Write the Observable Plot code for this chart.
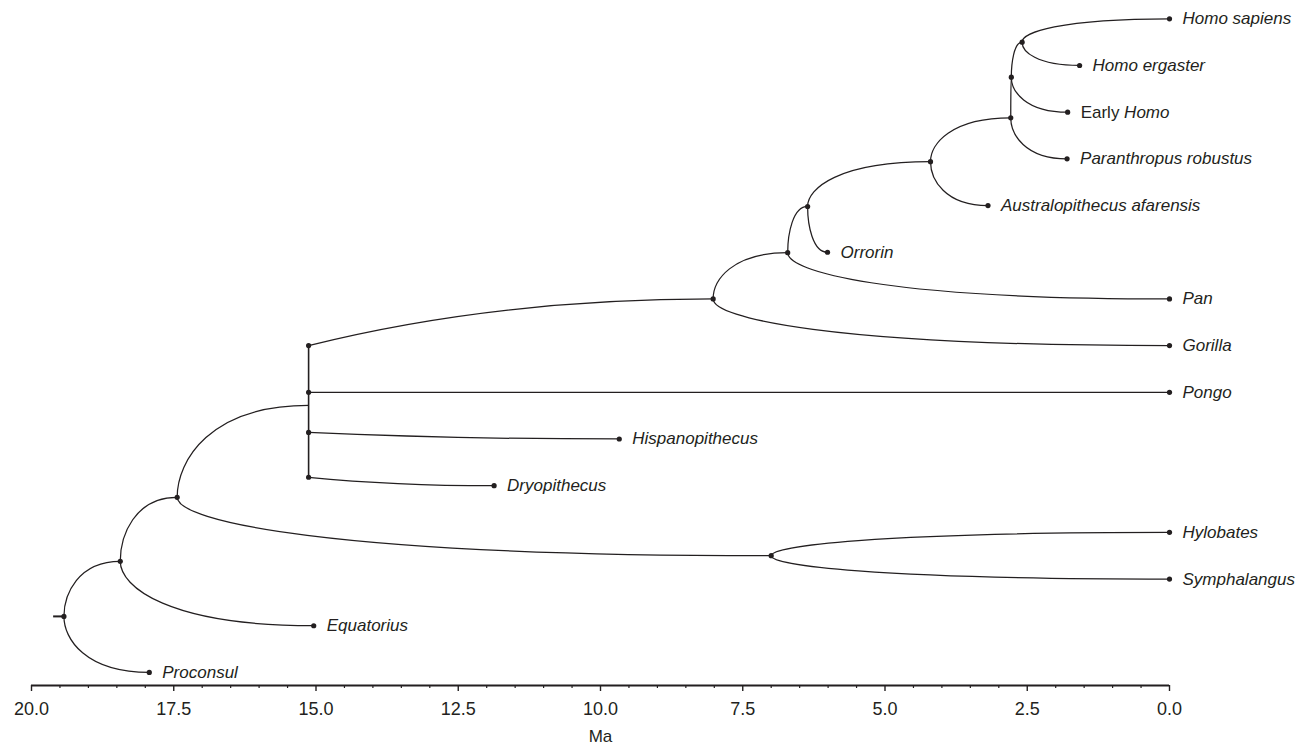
<!DOCTYPE html>
<html><head><meta charset="utf-8">
<script src="https://cdn.jsdelivr.net/npm/d3@7"></script>
<script src="https://cdn.jsdelivr.net/npm/@observablehq/plot@0.6"></script>
<style>body{margin:0;background:#fff} #chart{width:1313px;height:750px}</style>
</head><body><div id="chart"></div>
<script>
// ---- data ----
const taxa = ["Homo sapiens","Homo ergaster","Early Homo","Paranthropus robustus","Australopithecus afarensis","Orrorin","Pan","Gorilla","Pongo","Hispanopithecus","Dryopithecus","Hylobates","Symphalangus","Equatorius","Proconsul"];
const taxonAges = [0, 1.58, 1.79, 1.80, 3.19, 6.01, 0, 0, 0, 9.67, 11.87, 0, 0, 15.04, 17.93];
const nodeIds = ["A","B","C","D","E","F","G","H","I","J","K","L"];
const nodeAges = [2.59, 2.78, 2.79, 4.20, 6.36, 6.71, 8.02, 15.13, 17.44, 18.44, 19.43, 7.00];
const nodeRows = [0.50, 1.25, 2.12, 3.06, 4.02, 5.01, 6.00, 8.28, 10.25, 11.62, 12.80, 11.50];
const edgeParents  = ["A","A","B","B","C","C","D","D","E","E","F","F","G","G","H","H","H","H","I","I","L","L","J","J","K","K"];
const edgeChildren = ["Homo sapiens","Homo ergaster","A","Early Homo","B","Paranthropus robustus","C","Australopithecus afarensis","D","Orrorin","E","Pan","F","Gorilla","G","Pongo","Hispanopithecus","Dryopithecus","H","L","Hylobates","Symphalangus","I","Equatorius","J","Proconsul"];
const polytomyNode = "H";
const polytomyChildren = ["G","Pongo","Hispanopithecus","Dryopithecus"];
const polytomyRows = [7.00, 8.00, 8.86, 9.82];
const rootNode = "K";
const rootStemAge = 19.62;
const majorTicks = [20, 17.5, 15, 12.5, 10, 7.5, 5, 2.5, 0];
const minorTicks = d3.range(0, 20.001, 0.5).filter(v => !majorTicks.includes(v));
const axisTitle = "Ma";
const rowMax = 14.28;

// ---- derived tables ----
const pos = new Map();
taxa.forEach((t, i) => pos.set(t, {age: taxonAges[i], row: i}));
nodeIds.forEach((n, i) => pos.set(n, {age: nodeAges[i], row: nodeRows[i]}));
const edges = edgeParents.map((p, i) => {
  const c = edgeChildren[i];
  const poly = p === polytomyNode;
  return {
    x1: pos.get(p).age,
    y1: poly ? polytomyRows[polytomyChildren.indexOf(c)] : pos.get(p).row,
    x2: pos.get(c).age,
    y2: pos.get(c).row,
    poly
  };
});
const leaves = taxa.map((t, i) => ({name: t, age: taxonAges[i], row: i}));
const dots = [
  ...leaves,
  ...nodeIds.filter(n => n !== polytomyNode).map(n => ({age: pos.get(n).age, row: pos.get(n).row})),
  ...polytomyRows.map(r => ({age: pos.get(polytomyNode).age, row: r}))
];
const polyBar = [{x: pos.get(polytomyNode).age, y1: d3.min(polytomyRows), y2: d3.max(polytomyRows)}];
const rootStem = [{x1: rootStemAge, x2: pos.get(rootNode).age, y: pos.get(rootNode).row}];

// ---- custom curves ----
function makeCurve(ctrl) {
  return function(context) {
    let pts = [];
    return {
      areaStart() {}, areaEnd() {},
      lineStart() { pts = []; },
      point(x, y) { pts.push([+x, +y]); },
      lineEnd() {
        if (pts.length < 2) return;
        const [x0, y0] = pts[0], [x1, y1] = pts[pts.length - 1];
        const c = ctrl(x0, y0, x1, y1);
        context.moveTo(x0, y0);
        context.bezierCurveTo(c[0], c[1], c[2], c[3], x1, y1);
      }
    };
  };
}
const branchCurve = makeCurve((x0, y0, x1, y1) => [x0, y0 + 0.4 * (y1 - y0), x0 + 0.25 * (x1 - x0), y1]);
const polyCurve = makeCurve((x0, y0, x1, y1) => [x0 + (x1 - x0) / 3, y0 + 0.72 * (y1 - y0), x0 + 2 * (x1 - x0) / 3, y1]);

const ink = "#231f20";
const font = "Liberation Sans, Arial, Helvetica, sans-serif";

const chart = Plot.plot({
  width: 1313,
  height: 750,
  marginLeft: 31,
  marginRight: 144,
  marginTop: 18,
  marginBottom: 65,
  style: {fontFamily: font, color: ink, background: "#fff"},
  x: {domain: [20, 0]},
  y: {domain: [0, rowMax], range: [18.3, 685], axis: null},
  marks: [
    Plot.link(edges.filter(d => !d.poly), {x1: "x1", y1: "y1", x2: "x2", y2: "y2", curve: branchCurve, stroke: ink, strokeWidth: 1.25}),
    Plot.link(edges.filter(d => d.poly), {x1: "x1", y1: "y1", x2: "x2", y2: "y2", curve: polyCurve, stroke: ink, strokeWidth: 1.25}),
    Plot.link(polyBar, {x1: "x", x2: "x", y1: "y1", y2: "y2", stroke: ink, strokeWidth: 1.6}),
    Plot.link(rootStem, {x1: "x1", x2: "x2", y1: "y", y2: "y", stroke: ink, strokeWidth: 2}),
    Plot.dot(dots, {x: "age", y: "row", r: 2.6, fill: ink, stroke: "none"}),
    Plot.text(leaves, {x: "age", y: "row", text: "name", dx: 13, textAnchor: "start", fontStyle: "italic", fontSize: 17, fill: ink}),
    Plot.ruleY([rowMax], {stroke: ink, strokeWidth: 2}),
    Plot.axisX(minorTicks, {anchor: "bottom", tickSize: 3, tickFormat: () => "", label: null, stroke: ink, strokeWidth: 1.2}),
    Plot.axisX(majorTicks, {anchor: "bottom", tickSize: 6, tickPadding: 11, tickFormat: d3.format(".1f"), label: null, fontSize: 18, stroke: ink, strokeWidth: 1.4, fill: ink}),
    Plot.text([axisTitle], {frameAnchor: "bottom", dy: 56, fontSize: 17, fill: ink})
  ]
});

// mixed style label: "Early" upright, "Homo" italic
const ns = "http://www.w3.org/2000/svg";
chart.querySelectorAll("text").forEach(t => {
  if (t.textContent === "Early Homo") {
    t.textContent = "";
    const a = document.createElementNS(ns, "tspan");
    a.setAttribute("font-style", "normal");
    a.setAttribute("style", "white-space:pre");
    a.textContent = "Early ";
    const b = document.createElementNS(ns, "tspan");
    b.textContent = "Homo";
    t.append(a, b);
  }
});
document.getElementById("chart").append(chart);
</script>
</body></html>
